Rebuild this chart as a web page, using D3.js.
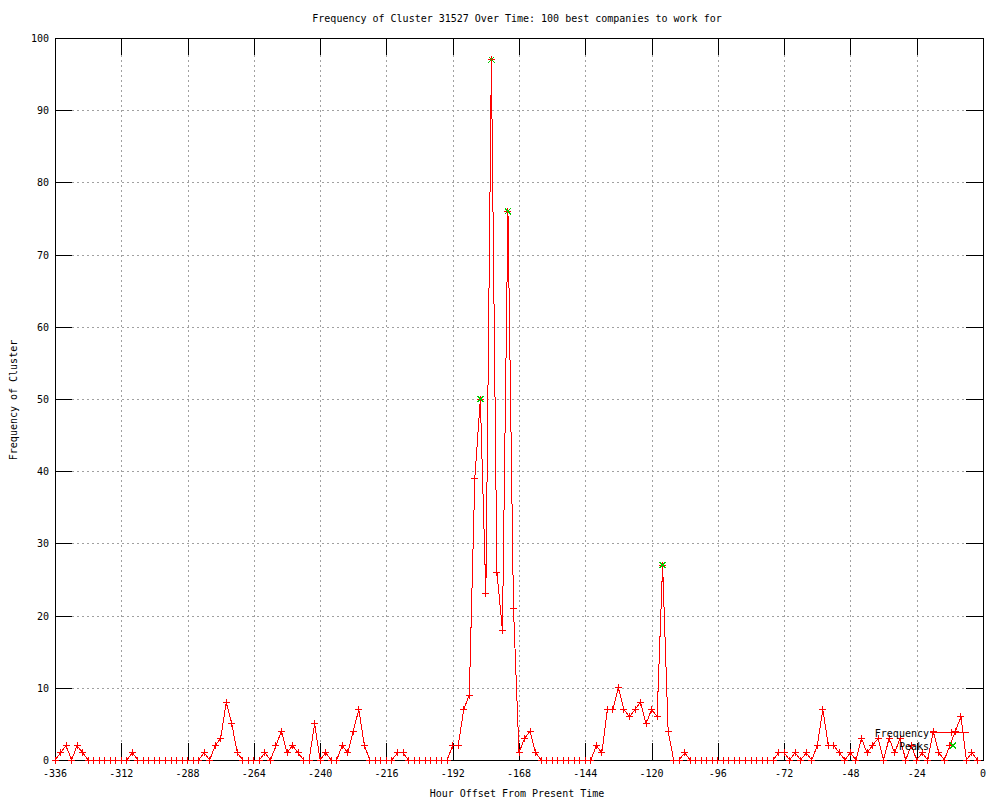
<!DOCTYPE html>
<html>
<head>
<meta charset="utf-8">
<script src="https://cdn.jsdelivr.net/npm/d3@7"></script>
<style>
  body { margin: 0; background: #fff; }
  svg { display: block; font-family: "DejaVu Sans Mono", "Liberation Mono", monospace; font-size: 10px; }
  .grid line { stroke: #a0a0a0; stroke-dasharray: 2,3; shape-rendering: crispEdges; }
  .tick-mark { stroke: #000; shape-rendering: crispEdges; }
  .frame { fill: none; stroke: #000; shape-rendering: crispEdges; }
  .data { shape-rendering: crispEdges; }
</style>
</head>
<body>
<svg class="gnuplot" width="1000" height="800"></svg>
<script>
// hourly offsets, one sample every 2 hours starting at -336
const startHour = -336
const hourStep = 2

// frequency of cluster per sample
const frequency = [
  0, 1, 2, 0, 2, 1, 0, 0, 0, 0, 0, 0, 0, 0, 1, 0, 0, 0, 0, 0,
  0, 0, 0, 0, 0, 0, 0, 1, 0, 2, 3, 8, 5, 1, 0, 0, 0, 0, 1, 0,
  2, 4, 1, 2, 1, 0, 0, 5, 0, 1, 0, 0, 2, 1, 4, 7, 2, 0, 0, 0,
  0, 0, 1, 1, 0, 0, 0, 0, 0, 0, 0, 0, 2, 2, 7, 9, 39, 50, 23, 97,
  26, 18, 76, 21, 1, 3, 4, 1, 0, 0, 0, 0, 0, 0, 0, 0, 0, 0, 2, 1,
  7, 7, 10, 7, 6, 7, 8, 5, 7, 6, 27, 4, 0, 0, 1, 0, 0, 0, 0, 0,
  0, 0, 0, 0, 0, 0, 0, 0, 0, 0, 0, 1, 1, 0, 1, 0, 1, 0, 2, 7,
  2, 2, 1, 0, 1, 0, 3, 1, 2, 3, 0, 3, 1, 3, 0, 2, 0, 1, 0, 4,
  1, 0, 2, 4, 6, 0, 1, 0
]

const peakHours = [-182, -178, -172, -116]
const peakValues = [50, 97, 76, 27]

const xTicks = [-336, -312, -288, -264, -240, -216, -192, -168, -144, -120, -96, -72, -48, -24, 0]
const yTicks = [0, 10, 20, 30, 40, 50, 60, 70, 80, 90, 100]

const titleText = "Frequency of Cluster 31527 Over Time: 100 best companies to work for"
const xLabel = "Hour Offset From Present Time"
const yLabel = "Frequency of Cluster"

const margin = { top: 38, right: 17, bottom: 40, left: 55 }
const width = 1000 - margin.left - margin.right
const height = 800 - margin.top - margin.bottom
const ticLen = 17

const series = frequency.map((v, i) => [startHour + i * hourStep, v])
const peaks = peakHours.map((h, i) => [h, peakValues[i]])

const svg = d3.select("svg.gnuplot")
const x = d3.scaleLinear().domain([-336, 0]).range([0, width])
const y = d3.scaleLinear().domain([0, 100]).range([height, 0])

const g = svg.append("g")
  .attr("transform", `translate(${margin.left},${margin.top})`)

// grid
const grid = g.append("g").attr("class", "grid")
grid.selectAll("line.gx")
  .data(xTicks.slice(1, -1))
  .enter().append("line")
  .attr("x1", (d) => Math.round(x(d)) + 0.5)
  .attr("x2", (d) => Math.round(x(d)) + 0.5)
  .attr("y1", ticLen)
  .attr("y2", height - ticLen)
grid.selectAll("line.gy")
  .data(yTicks.slice(1, -1))
  .enter().append("line")
  .attr("x1", ticLen)
  .attr("x2", width - ticLen)
  .attr("y1", (d) => Math.round(y(d)) + 0.5)
  .attr("y2", (d) => Math.round(y(d)) + 0.5)

// tic marks, mirrored on all four sides
const tics = g.append("g")
xTicks.forEach((d) => {
  const px = Math.round(x(d)) + 0.5
  tics.append("line").attr("class", "tick-mark")
    .attr("x1", px).attr("x2", px).attr("y1", height).attr("y2", height - ticLen)
  tics.append("line").attr("class", "tick-mark")
    .attr("x1", px).attr("x2", px).attr("y1", 0).attr("y2", ticLen)
})
yTicks.forEach((d) => {
  const py = Math.round(y(d)) + 0.5
  tics.append("line").attr("class", "tick-mark")
    .attr("x1", 0).attr("x2", ticLen).attr("y1", py).attr("y2", py)
  tics.append("line").attr("class", "tick-mark")
    .attr("x1", width).attr("x2", width - ticLen).attr("y1", py).attr("y2", py)
})

g.append("rect").attr("class", "frame")
  .attr("x", 0.5).attr("y", 0.5)
  .attr("width", width).attr("height", height)

// tick labels
g.selectAll("text.xl")
  .data(xTicks)
  .enter().append("text")
  .attr("x", (d) => x(d))
  .attr("y", height + 17)
  .attr("text-anchor", "middle")
  .text((d) => d)
g.selectAll("text.yl")
  .data(yTicks)
  .enter().append("text")
  .attr("x", -6)
  .attr("y", (d) => y(d) + 4)
  .attr("text-anchor", "end")
  .text((d) => d)

// frequency line + markers
const line = d3.line().x((d) => x(d[0])).y((d) => y(d[1]))
g.append("path")
  .datum(series)
  .attr("class", "data")
  .attr("d", line)
  .attr("fill", "none")
  .attr("stroke", "#ff0000")
  .attr("stroke-width", 1)

const plus = "M-3.5,0H3.5M0,-3.5V3.5"
const cross = "M-3,-3L3,3M-3,3L3,-3"

g.selectAll("path.freq")
  .data(series)
  .enter().append("path")
  .attr("class", "freq data")
  .attr("transform", (d) => `translate(${x(d[0])},${y(d[1])})`)
  .attr("d", plus)
  .attr("stroke", "#ff0000")
  .attr("fill", "none")

g.selectAll("path.peak")
  .data(peaks)
  .enter().append("path")
  .attr("class", "peak data")
  .attr("transform", (d) => `translate(${x(d[0])},${y(d[1])})`)
  .attr("d", cross)
  .attr("stroke", "#00cc00")
  .attr("fill", "none")

// legend
const legend = svg.append("g")
legend.append("text").attr("x", 929).attr("y", 737).attr("text-anchor", "end").text("Frequency")
legend.append("line").attr("class", "data").attr("x1", 930).attr("x2", 969).attr("y1", 732.5).attr("y2", 732.5)
  .attr("stroke", "#ff0000")
legend.append("path").attr("class", "data").attr("transform", "translate(951,732.5)").attr("d", plus)
  .attr("stroke", "#ff0000").attr("fill", "none")
legend.append("text").attr("x", 929).attr("y", 750).attr("text-anchor", "end").text("Peaks")
legend.append("path").attr("class", "data").attr("transform", "translate(953,745.5)").attr("d", cross)
  .attr("stroke", "#00cc00").attr("fill", "none")

// titles
svg.append("text")
  .attr("x", 517).attr("y", 22)
  .attr("text-anchor", "middle")
  .text(titleText)
svg.append("text")
  .attr("x", 517).attr("y", 797)
  .attr("text-anchor", "middle")
  .text(xLabel)
svg.append("text")
  .attr("transform", "translate(17,400) rotate(-90)")
  .attr("text-anchor", "middle")
  .text(yLabel)
</script>
</body>
</html>
